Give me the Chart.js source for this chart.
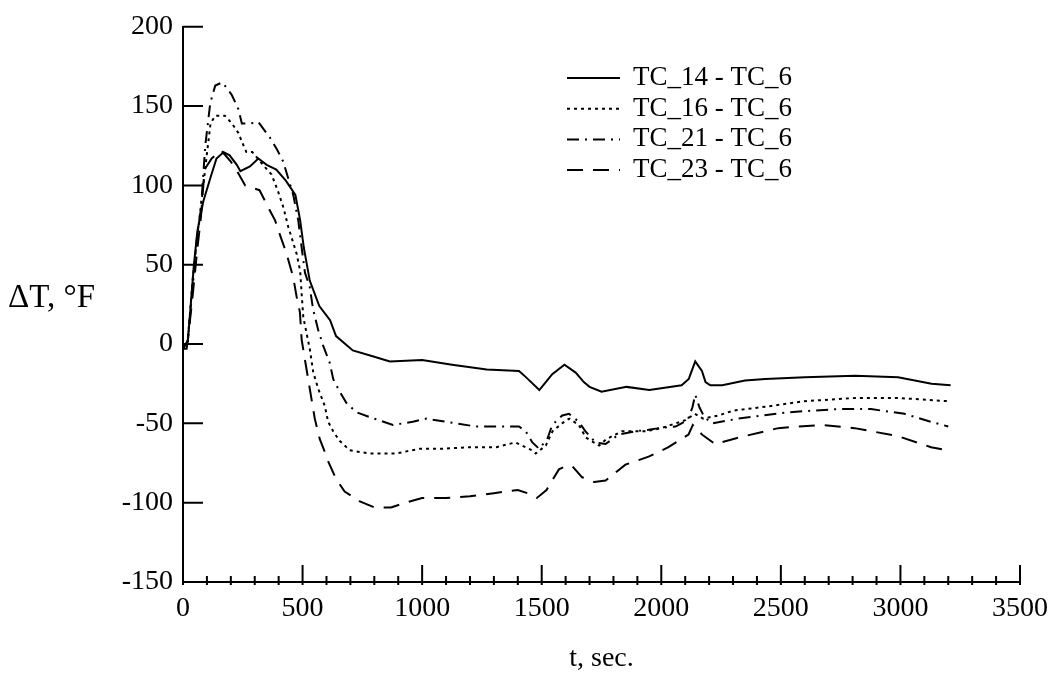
<!DOCTYPE html>
<html lang="en">
<head>
<meta charset="UTF-8">
<title>Delta T vs time</title>
<script src="https://cdn.jsdelivr.net/npm/chart.js"></script>
<style>
    html, body { margin: 0; padding: 0; background: #fff; }
    .chart-container { width: 1058px; height: 679px; }
</style>
</head>
<body>
<div class="chart-container">
    <canvas id="dtChart" width="1058" height="679"></canvas>
</div>
<script>
    // values (t in sec, delta T in deg F)
    const seriesNames = ['TC_14 - TC_6', 'TC_16 - TC_6', 'TC_21 - TC_6', 'TC_23 - TC_6'];

    const tc14Time = [0, 15, 20, 30, 45, 60, 85, 115, 140, 170, 195, 225, 240, 280, 315, 350, 390, 430, 470, 490, 505, 530, 570, 615, 640, 710, 800, 865, 1000, 1125, 1270, 1405, 1435, 1490, 1517, 1544, 1595, 1642, 1676, 1700, 1750, 1855, 1950, 2085, 2115, 2142, 2170, 2185, 2205, 2255, 2350, 2435, 2600, 2810, 2990, 3130, 3210];
    const tc14Delta = [-3, -3, 2, 20, 49, 71, 90, 105, 117, 121, 119, 113, 109, 112, 117, 113, 110, 103, 94, 78, 61, 40, 24, 15, 5, -4, -8, -11, -10, -13, -16, -17, -21, -29, -24, -19, -13, -18, -24, -27, -30, -27, -29, -26, -22, -11, -17, -24, -26, -26, -23, -22, -21, -20, -21, -25, -26];

    const tc16Time = [0, 20, 40, 60, 85, 100, 115, 135, 175, 205, 232, 245, 265, 290, 340, 370, 398, 420, 440, 475, 490, 496, 503, 530, 545, 565, 593, 607, 628, 655, 697, 780, 890, 990, 1085, 1200, 1310, 1390, 1460, 1475, 1517, 1545, 1585, 1615, 1655, 1685, 1740, 1770, 1835, 1935, 2000, 2100, 2140, 2175, 2240, 2300, 2460, 2600, 2810, 2990, 3200];
    const tc16Delta = [-3, 2, 40, 68, 100, 120, 139, 144, 144, 139, 133, 128, 121, 121, 112, 107, 96, 86, 74, 57, 46, 32, 17, -3, -18, -28, -39, -49, -55, -61, -67, -69, -69, -66, -66, -65, -65, -62, -67, -69, -64, -55, -50, -47, -51, -59, -64, -60, -55, -55, -53, -48, -44, -47, -45, -42, -39, -36, -34, -34, -36];

    const tc21Time = [0, 20, 40, 60, 75, 93, 114, 135, 165, 204, 232, 246, 280, 315, 364, 392, 419, 447, 461, 482, 496, 510, 530, 544, 565, 586, 614, 628, 655, 683, 725, 780, 878, 961, 1017, 1058, 1142, 1225, 1336, 1405, 1433, 1461, 1489, 1523, 1544, 1586, 1614, 1655, 1683, 1725, 1767, 1822, 1892, 1947, 1990, 2060, 2110, 2130, 2142, 2160, 2180, 2211, 2322, 2530, 2740, 2877, 3017, 3128, 3200];
    const tc21Delta = [-3, 2, 35, 70, 85, 125, 152, 163, 165, 157, 148, 139, 139, 140, 130, 123, 115, 101, 94, 78, 61, 45, 36, 22, 9, -1, -12, -22, -30, -37, -43, -46, -51, -49, -47, -48, -50, -52, -52, -52, -55, -62, -66, -60, -51, -45, -44, -49, -55, -62, -63, -57, -55, -54, -53, -52, -48, -40, -32, -40, -46, -50, -47, -43, -41, -41, -44, -49, -52];

    const tc23Time = [0, 20, 40, 60, 75, 90, 120, 160, 200, 230, 260, 320, 357, 385, 405, 433, 461, 475, 489, 496, 510, 530, 551, 572, 593, 607, 640, 676, 737, 800, 870, 930, 1000, 1100, 1200, 1300, 1400, 1440, 1480, 1520, 1572, 1600, 1628, 1669, 1720, 1767, 1850, 1947, 2030, 2114, 2132, 2150, 2170, 2225, 2322, 2489, 2669, 2808, 2989, 3128, 3200];
    const tc23Delta = [-3, 2, 30, 60, 80, 110, 117, 122, 115, 108, 100, 97, 86, 78, 69, 57, 42, 30, 20, 3, -10, -28, -47, -60, -68, -74, -85, -93, -99, -103, -103, -100, -97, -97, -96, -94, -92, -94, -97, -92, -79, -77, -77, -84, -87, -86, -76, -71, -65, -57, -51, -54, -57, -63, -59, -53, -51, -53, -58, -65, -67];

    const xTickValues = [0, 500, 1000, 1500, 2000, 2500, 3000, 3500];
    const xMinorValues = [100, 200, 300, 400, 600, 700, 800, 900, 1100, 1200, 1300, 1400, 1600, 1700, 1800, 1900, 2100, 2200, 2300, 2400, 2600, 2700, 2800, 2900, 3100, 3200, 3300, 3400];
    const yTickValues = [-150, -100, -50, 0, 50, 100, 150, 200];

    const lineDashes = [[], [3, 4], [12, 6, 2, 6], [16, 10]];
    const serif = '"Liberation Serif", "DejaVu Serif", serif';

    function toPoints(times, deltas) {
        return times.map((t, i) => ({x: t, y: deltas[i]}));
    }

    const allSeries = [
        toPoints(tc14Time, tc14Delta),
        toPoints(tc16Time, tc16Delta),
        toPoints(tc21Time, tc21Delta),
        toPoints(tc23Time, tc23Delta)
    ];

    // inward ticks, axis titles and the legend box
    const decorPlugin = {
        id: 'decor',
        afterDraw(chart) {
            const ctx = chart.ctx;
            const xs = chart.scales.x;
            const ys = chart.scales.y;
            const area = chart.chartArea;
            ctx.save();
            ctx.strokeStyle = '#000';
            ctx.lineWidth = 2;
            ctx.beginPath();
            xTickValues.forEach(v => {
                const px = xs.getPixelForValue(v);
                ctx.moveTo(px, area.bottom + 3);
                ctx.lineTo(px, area.bottom - 17);
            });
            xMinorValues.forEach(v => {
                const px = xs.getPixelForValue(v);
                ctx.moveTo(px, area.bottom + 3);
                ctx.lineTo(px, area.bottom - 6);
            });
            yTickValues.forEach(v => {
                const py = ys.getPixelForValue(v);
                ctx.moveTo(area.left, py);
                ctx.lineTo(area.left + 20, py);
            });
            ctx.stroke();

            ctx.fillStyle = '#000';
            ctx.textBaseline = 'middle';
            ctx.textAlign = 'left';
            ctx.font = '33px ' + serif;
            ctx.fillText('\u0394T, \u00B0F', 8, 298);
            ctx.font = '28px ' + serif;
            ctx.textAlign = 'center';
            ctx.fillText('t, sec.', (area.left + area.right) / 2, 659);

            // legend
            ctx.font = '27px ' + serif;
            ctx.textAlign = 'left';
            chart.data.datasets.forEach((ds, i) => {
                const y = 78 + i * 30.7;
                ctx.setLineDash(ds.borderDash);
                ctx.beginPath();
                ctx.moveTo(567, y);
                ctx.lineTo(620, y);
                ctx.stroke();
                ctx.setLineDash([]);
                ctx.fillText(ds.label, 633, y);
            });
            ctx.restore();
        }
    };

    new Chart(document.getElementById('dtChart').getContext('2d'), {
        type: 'line',
        data: {
            datasets: allSeries.map((pts, i) => ({
                label: seriesNames[i],
                data: pts,
                borderColor: '#000',
                borderWidth: 2,
                borderDash: lineDashes[i],
                pointRadius: 0,
                tension: 0,
                fill: false
            }))
        },
        options: {
            responsive: false,
            animation: false,
            layout: {padding: {top: 21, right: 35, left: 0, bottom: 0}},
            plugins: {
                legend: {display: false},
                tooltip: {enabled: false}
            },
            scales: {
                x: {
                    type: 'linear',
                    min: 0,
                    max: 3500,
                    afterFit: s => { s.height = 97; },
                    afterBuildTicks: s => { s.ticks = xTickValues.map(v => ({value: v})); },
                    ticks: {
                        color: '#000',
                        font: {family: serif, size: 28},
                        padding: 10,
                        maxRotation: 0,
                        autoSkip: false,
                        callback: v => String(v)
                    },
                    grid: {display: false, drawTicks: false, tickLength: 0},
                    border: {display: true, color: '#000', width: 2}
                },
                y: {
                    min: -150,
                    max: 200,
                    afterFit: s => { s.width = 183; },
                    afterBuildTicks: s => { s.ticks = yTickValues.map(v => ({value: v})); },
                    ticks: {
                        color: '#000',
                        font: {family: serif, size: 28},
                        padding: 10,
                        callback: v => String(v)
                    },
                    grid: {display: false, drawTicks: false, tickLength: 0},
                    border: {display: true, color: '#000', width: 2}
                }
            }
        },
        plugins: [decorPlugin]
    });
</script>
</body>
</html>
